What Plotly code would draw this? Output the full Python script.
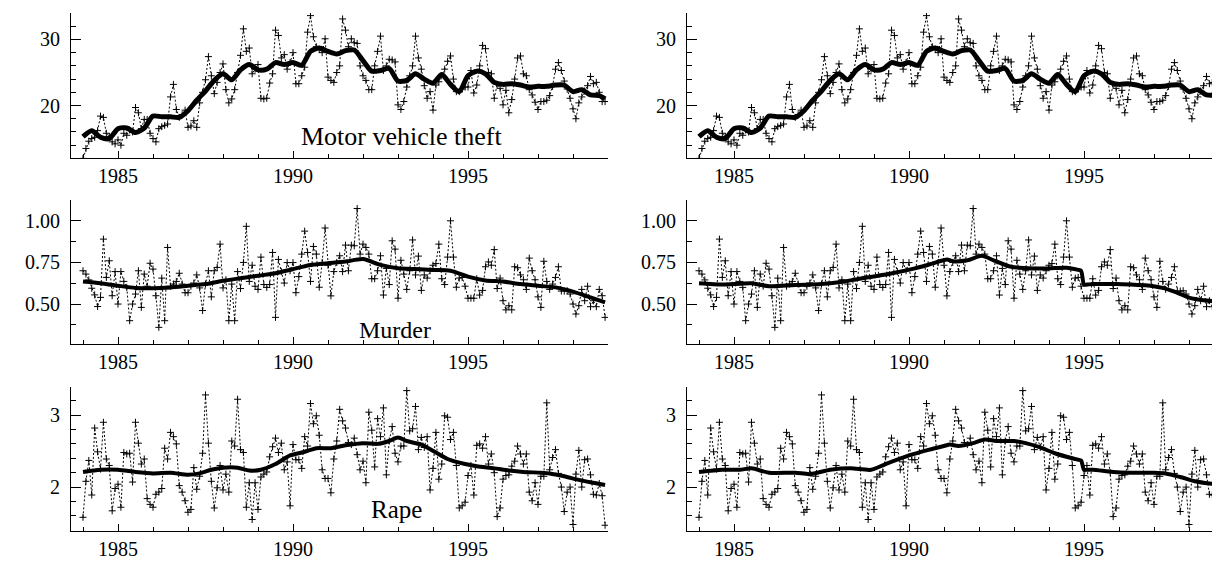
import plotly.graph_objects as go

# ---------------- data (monthly, Jan 1984 .. Dec 1998) ----------------
start_year = 1984
n_months = 180

motor_vehicle_theft = [
    12.0, 13.5, 14.6, 15.0, 15.2, 16.2, 18.4, 18.2, 15.8, 15.3, 14.5, 14.2,
    14.8, 14.0, 15.8, 15.5, 16.3, 16.0, 19.7, 18.9, 16.5, 17.9, 17.9, 15.8,
    15.0, 14.5, 16.5, 16.8, 17.0, 17.2, 21.3, 23.2, 19.4, 18.2, 18.6, 19.3,
    16.7, 16.9, 17.7, 16.7, 20.4, 22.0, 23.9, 27.4, 24.5, 21.8, 23.5, 25.0,
    26.3, 22.4, 20.4, 21.0, 22.4, 25.0, 27.6, 31.6, 28.2, 28.7, 24.8, 25.5,
    26.2, 21.1, 21.0, 21.1, 23.4, 24.8, 31.4, 30.6, 27.2, 27.7, 25.5, 26.5,
    28.0, 23.3, 23.3, 24.5, 25.8, 31.1, 33.6, 30.4, 28.9, 28.5, 28.0, 30.1,
    24.3, 23.8, 23.5, 25.0, 26.0, 33.1, 31.4, 28.9, 30.1, 29.5, 29.4, 26.0,
    24.5, 23.8, 22.4, 22.4, 26.0, 28.2, 30.5, 25.3, 26.0, 27.0, 26.9, 26.6,
    20.1, 19.4, 20.6, 22.8, 24.5, 26.0, 30.5, 27.2, 25.5, 23.0, 21.1, 22.1,
    19.3, 23.1, 23.6, 24.5, 25.5, 26.7, 27.5, 24.0, 22.1, 22.1, 22.5, 22.8,
    22.8, 25.3, 21.9, 23.1, 26.0, 29.1, 28.6, 25.0, 24.8, 21.1, 23.2, 22.6,
    20.1, 22.3, 18.9, 20.9, 24.0, 27.2, 27.5, 24.8, 24.5, 22.4, 21.6, 20.5,
    19.4, 20.6, 20.6, 20.8, 21.5, 22.9, 25.5, 26.5, 25.3, 23.7, 22.5, 21.1,
    19.5, 18.0, 20.4, 21.3, 22.2, 23.0, 24.4, 23.3, 23.5, 22.0, 20.6, 20.6,
]

murder = [
    0.70, 0.68, 0.645, 0.595, 0.555, 0.485, 0.54, 0.89, 0.66, 0.76, 0.55, 0.695,
    0.50, 0.695, 0.636, 0.60, 0.40, 0.50, 0.56, 0.70, 0.48, 0.68, 0.607, 0.745,
    0.71, 0.55, 0.36, 0.656, 0.40, 0.84, 0.607, 0.62, 0.636, 0.685, 0.62, 0.568,
    0.568, 0.607, 0.626, 0.675, 0.597, 0.461, 0.62, 0.70, 0.543, 0.70, 0.72, 0.86,
    0.597, 0.646, 0.40, 0.62, 0.40, 0.695, 0.593, 0.75, 0.967, 0.636, 0.733, 0.607,
    0.588, 0.782, 0.617, 0.60, 0.617, 0.81, 0.42, 0.768, 0.695, 0.626, 0.749, 0.70,
    0.749, 0.568, 0.665, 0.80, 0.938, 0.81, 0.636, 0.846, 0.80, 0.601, 0.75, 0.957,
    0.733, 0.549, 0.695, 0.75, 0.79, 0.695, 0.854, 0.70, 0.854, 0.85, 1.074, 0.80,
    0.86, 0.84, 0.80, 0.652, 0.652, 0.70, 0.79, 0.554, 0.714, 0.617, 0.88, 0.83,
    0.535, 0.763, 0.68, 0.588, 0.70, 0.885, 0.675, 0.788, 0.582, 0.675, 0.656, 0.70,
    0.733, 0.743, 0.86, 0.652, 0.617, 0.782, 1.0, 0.782, 0.601, 0.656, 0.66, 0.607,
    0.535, 0.535, 0.535, 0.652, 0.554, 0.582, 0.724, 0.753, 0.733, 0.827, 0.593, 0.656,
    0.52, 0.465, 0.49, 0.465, 0.724, 0.718, 0.675, 0.646, 0.588, 0.776, 0.70, 0.646,
    0.543, 0.48, 0.757, 0.636, 0.588, 0.62, 0.66, 0.724, 0.578, 0.578, 0.58, 0.56,
    0.50, 0.44, 0.49, 0.588, 0.52, 0.607, 0.484, 0.52, 0.484, 0.588, 0.55, 0.42,
]

rape = [
    1.58, 2.08, 2.37, 1.89, 2.82, 2.49, 2.25, 2.90, 2.39, 2.30, 1.67, 1.98,
    2.04, 1.72, 2.48, 2.46, 2.47, 2.07, 2.90, 2.61, 2.32, 2.39, 1.84, 1.76,
    1.72, 1.90, 1.93, 1.98, 2.54, 2.39, 2.76, 2.70, 2.60, 2.02, 1.93, 1.81,
    1.65, 1.69, 2.27, 1.97, 2.15, 2.47, 3.28, 2.61, 2.08, 1.71, 1.99, 2.30,
    1.96, 2.18, 1.93, 2.64, 2.57, 3.22, 2.52, 2.48, 1.72, 2.06, 1.55, 2.06,
    1.69, 2.14, 2.18, 2.21, 2.42, 2.56, 2.68, 2.48, 2.61, 2.24, 2.35, 1.74,
    2.59, 2.38, 2.38, 2.26, 2.70, 2.57, 3.16, 2.88, 2.99, 2.72, 2.24, 2.12,
    2.12, 1.92, 2.39, 2.64, 3.08, 2.92, 2.82, 2.62, 2.59, 2.68, 2.45, 2.24,
    2.36, 2.06, 3.04, 2.79, 2.28, 2.95, 2.70, 3.10, 2.17, 2.64, 2.84, 2.47,
    2.35, 2.57, 2.57, 3.34, 2.78, 2.81, 3.12, 2.52, 2.69, 2.55, 2.70, 1.96,
    2.26, 2.76, 2.11, 2.32, 2.99, 2.97, 2.66, 2.76, 2.30, 1.71, 1.74, 1.79,
    2.16, 2.30, 1.89, 2.58, 2.60, 2.54, 2.70, 2.32, 2.46, 2.20, 1.59, 1.71,
    2.11, 2.16, 2.17, 2.29, 2.36, 2.57, 2.46, 2.32, 2.46, 1.93, 1.81, 2.06,
    1.76, 2.15, 2.15, 3.17, 2.24, 2.41, 2.52, 2.19, 2.00, 1.66, 1.93, 2.00,
    1.48, 2.18, 2.51, 2.00, 2.38, 2.39, 2.17, 1.90, 1.89, 2.05, 1.88, 1.47,
]

# smooth trend curves: knots given as month index (0 = Jan 1984) and value
mvt_trend_months = list(range(0, 180, 3)) + [179]
mvt_trend = [
    15.3, 16.2, 15.2, 15.0, 16.5, 16.6, 15.9, 16.6, 18.4, 18.3, 18.3, 18.2,
    19.2, 20.8, 22.2, 23.8, 24.8, 23.9, 25.4, 26.2, 25.4, 25.5, 26.5, 26.2,
    26.5, 26.1, 28.2, 28.7, 28.2, 27.8, 28.3, 28.4, 26.8, 25.2, 25.3, 25.6,
    23.7, 23.8, 24.8, 24.0, 23.4, 24.7, 23.2, 22.1, 24.5, 25.2, 24.8, 23.5,
    23.2, 23.3, 23.1, 22.8, 22.9, 22.9, 23.1, 23.1, 22.1, 22.4, 21.6, 21.5,
    21.0,
]

murder_trend_left_months = [0, 6, 12, 18, 24, 30, 36, 42, 48, 54, 60, 66, 72, 78, 84, 90,
                            96, 102, 108, 114, 120, 126, 132, 138, 144, 150, 156, 162,
                            168, 174, 179]
murder_trend_left = [0.635, 0.625, 0.61, 0.597, 0.595, 0.60, 0.61, 0.62, 0.64, 0.655,
                     0.67, 0.685, 0.71, 0.735, 0.745, 0.755, 0.77, 0.735, 0.715, 0.71,
                     0.705, 0.70, 0.665, 0.642, 0.635, 0.62, 0.61, 0.60, 0.575, 0.54, 0.51]

murder_trend_right_months = [0, 8, 18, 24, 33, 42, 50, 55, 65, 74, 80, 85, 87, 92, 97, 101,
                             107, 115, 120, 126, 130, 131, 132, 133, 135, 143, 148, 153,
                             159, 163, 168, 173, 179]
murder_trend_right = [0.625, 0.617, 0.625, 0.607, 0.615, 0.62, 0.636, 0.652, 0.68, 0.714,
                      0.743, 0.768, 0.757, 0.763, 0.79, 0.763, 0.724, 0.714, 0.714, 0.718,
                      0.705, 0.70, 0.617, 0.617, 0.62, 0.62, 0.617, 0.613, 0.597, 0.574,
                      0.539, 0.523, 0.515]

rape_trend_left_months = [0, 6, 12, 18, 24, 30, 36, 40, 44, 48, 53, 57, 61, 66, 71, 76, 80,
                          85, 90, 96, 101, 105, 108, 111, 116, 121, 125, 131, 135, 141,
                          146, 151, 157, 160, 165, 170, 175, 179]
rape_trend_left = [2.21, 2.24, 2.24, 2.21, 2.19, 2.20, 2.17, 2.19, 2.24, 2.27, 2.27, 2.23,
                   2.24, 2.32, 2.44, 2.49, 2.54, 2.54, 2.58, 2.61, 2.60, 2.64, 2.69, 2.64,
                   2.59, 2.48, 2.39, 2.32, 2.29, 2.26, 2.23, 2.21, 2.20, 2.19, 2.15, 2.10,
                   2.06, 2.03]

rape_trend_right_months = [0, 8, 14, 18, 24, 33, 38, 45, 52, 59, 64, 72, 79, 84, 86, 89, 94,
                           98, 102, 108, 112, 117, 122, 128, 130, 131, 132, 133, 135, 142,
                           148, 156, 160, 165, 170, 175, 179]
rape_trend_right = [2.21, 2.24, 2.24, 2.26, 2.20, 2.20, 2.18, 2.24, 2.26, 2.24, 2.32, 2.44,
                    2.52, 2.57, 2.59, 2.57, 2.61, 2.66, 2.64, 2.64, 2.61, 2.55, 2.47, 2.40,
                    2.38, 2.37, 2.24, 2.24, 2.24, 2.21, 2.20, 2.20, 2.19, 2.14, 2.08, 2.05,
                    2.04]

panel_labels = ["Motor vehicle theft", "Murder", "Rape"]
x_tick_years = [1985, 1990, 1995]

# ---------------- figure ----------------
W, H = 1220, 561
FONT = "Liberation Serif"

def t_of(months):
    return [start_year + m / 12.0 for m in months]

t_all = t_of(range(n_months))

def xfrac(px):
    return px / W

def yfrac(py):
    return 1 - py / H

col_px = [(63, 600), (679, 1216)]
row_px = [(5, 150), (192, 336), (379, 523)]

rows = [
    dict(values=motor_vehicle_theft,
         trends=[(mvt_trend_months, mvt_trend), (mvt_trend_months, mvt_trend)],
         width=5.0, yrange=[12.06, 34.0], yticks=[20, 30], ytext=["20", "30"],
         yminor=[v for v in range(12, 35, 2)], label=(1993.1, 15.3, 26)),
    dict(values=murder,
         trends=[(murder_trend_left_months, murder_trend_left),
                 (murder_trend_right_months, murder_trend_right)],
         width=4.0, yrange=[0.26, 1.125], yticks=[0.5, 0.75, 1.0],
         ytext=["0.50", "0.75", "1.00"],
         yminor=[0.375, 0.625, 0.875, 1.125], label=(1992.9, 0.345, 24)),
    dict(values=rape,
         trends=[(rape_trend_left_months, rape_trend_left),
                 (rape_trend_right_months, rape_trend_right)],
         width=4.0, yrange=[1.39, 3.39], yticks=[2, 3], ytext=["2", "3"],
         yminor=[1.4, 1.6, 1.8, 2.2, 2.4, 2.6, 2.8, 3.2], label=(1992.95, 1.69, 25)),
]

fig = go.Figure()
layout = {}
annotations = []
k = 0
for r, row in enumerate(rows):
    for c in range(2):
        k += 1
        xa = "x" if k == 1 else f"x{k}"
        ya = "y" if k == 1 else f"y{k}"
        xkey = "xaxis" if k == 1 else f"xaxis{k}"
        ykey = "yaxis" if k == 1 else f"yaxis{k}"
        fig.add_trace(go.Scatter(
            x=t_all, y=row["values"], mode="lines+markers",
            line=dict(color="black", width=1, dash="2px,2px"),
            marker=dict(symbol="cross-thin", size=5, line=dict(width=1, color="black")),
            xaxis=xa, yaxis=ya, showlegend=False, hoverinfo="skip"))
        tm, tv = row["trends"][c]
        fig.add_trace(go.Scatter(
            x=t_of(tm), y=tv, mode="lines",
            line=dict(color="black", width=row["width"], shape="spline", smoothing=0.7),
            xaxis=xa, yaxis=ya, showlegend=False, hoverinfo="skip"))
        x0, x1 = col_px[c]
        y0, y1 = row_px[r]
        layout[xkey] = dict(
            domain=[xfrac(x0), xfrac(x1)], anchor=ya, range=[1983.657, 1999.0],
            showline=True, linecolor="black", linewidth=1, mirror=False,
            showgrid=False, zeroline=False,
            ticks="inside", ticklen=7, tickwidth=1, tickcolor="black",
            tickvals=x_tick_years, ticktext=[str(v) for v in x_tick_years],
            minor=dict(tickvals=list(range(1984, 1999)), ticks="inside", ticklen=4,
                       tickwidth=1, tickcolor="black", showgrid=False),
            tickfont=dict(family=FONT, size=20, color="black"))
        layout[ykey] = dict(
            domain=[yfrac(y1), yfrac(y0)], anchor=xa, range=row["yrange"],
            showline=True, linecolor="black", linewidth=1, mirror=False,
            showgrid=False, zeroline=False,
            ticks="inside", ticklen=10, tickwidth=1, tickcolor="black",
            tickvals=row["yticks"], ticktext=row["ytext"],
            minor=dict(tickvals=row["yminor"], ticks="inside", ticklen=5,
                       tickwidth=1, tickcolor="black", showgrid=False),
            ticklabelstandoff=6,
            tickfont=dict(family=FONT, size=20, color="black"))
        if c == 0:
            lx, ly, ls = row["label"]
            annotations.append(dict(
                text=panel_labels[r], x=lx, y=ly, xref=xa, yref=ya,
                showarrow=False, font=dict(family=FONT, size=ls, color="black"),
                xanchor="center", yanchor="middle"))

fig.update_layout(
    width=W, height=H, margin=dict(l=0, r=0, t=0, b=0),
    paper_bgcolor="white", plot_bgcolor="white",
    annotations=annotations, **layout)

fig.write_html("out.html")
